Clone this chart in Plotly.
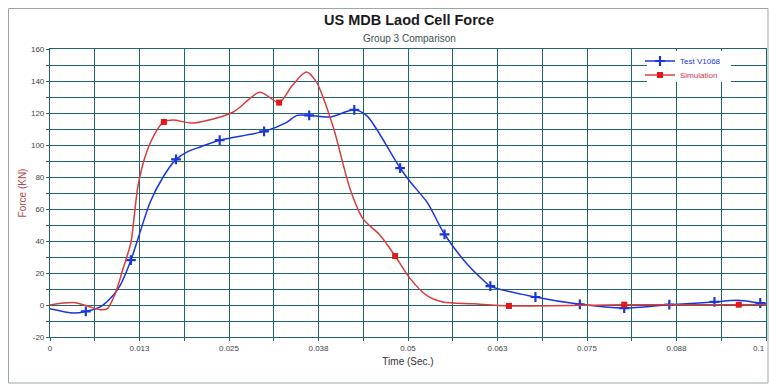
import plotly.graph_objects as go

# ---- data (time in seconds, force in kN) ----
test_t = [0.0, 0.0033, 0.0050, 0.0070, 0.0088, 0.0098, 0.0113, 0.0124, 0.0140, 0.0158,
          0.0176, 0.0191, 0.0210, 0.0237, 0.0299, 0.0330, 0.0345, 0.0362, 0.0391, 0.0425,
          0.0442, 0.0456, 0.0489, 0.0503, 0.0527, 0.0551, 0.0584, 0.0603, 0.0615, 0.0678,
          0.0740, 0.0802, 0.0865, 0.0928, 0.0960, 0.0992, 0.1000]
test_f = [-2.3, -5.0, -4.0, -1.2, 6.0, 12.3, 28.0, 43.0, 64.4, 80.0,
          91.0, 95.6, 98.8, 103.0, 108.5, 114.0, 118.5, 118.5, 117.5, 122.0,
          118.5, 110.0, 85.6, 77.0, 64.0, 44.2, 24.8, 16.4, 11.8, 5.0,
          0.4, -1.9, 0.2, 1.9, 2.9, 1.25, 1.0]
test_markers = [2, 6, 10, 13, 14, 17, 19, 22, 25, 28, 29, 30, 31, 32, 33, 35]

sim_t = [0.0, 0.0033, 0.0052, 0.0070, 0.0080, 0.0091, 0.0102, 0.0113, 0.0118, 0.0123,
         0.0135, 0.0149, 0.0159, 0.0172, 0.0200, 0.0256, 0.0293, 0.0320, 0.0338, 0.0358,
         0.0372, 0.0395, 0.0419, 0.0437, 0.0461, 0.0482, 0.0503, 0.0526, 0.0549, 0.0591,
         0.0641, 0.0802, 0.0962, 0.1000]
sim_f = [0.0, 1.5, -0.6, -2.9, -2.3, 7.0, 22.7, 39.0, 57.0, 74.8,
         95.6, 109.0, 114.4, 115.6, 113.7, 120.6, 133.0, 126.5, 137.0, 145.6,
         139.4, 112.0, 72.7, 54.0, 43.6, 30.6, 16.5, 6.0, 1.9, 0.8,
         -0.6, 0.2, 0.2, 0.3]
sim_markers = [12, 17, 25, 30, 31, 32]

x_tickvals = [0.0, 0.00625, 0.0125, 0.01875, 0.025, 0.03125, 0.0375, 0.04375, 0.05,
              0.05625, 0.0625, 0.06875, 0.075, 0.08125, 0.0875, 0.09375, 0.1]
x_ticktext = ["0", "", "0.013", "", "0.025", "", "0.038", "", "0.05",
              "", "0.063", "", "0.075", "", "0.088", "", "0.1"]
y_tickvals = [-20, -10, 0, 10, 20, 30, 40, 50, 60, 70, 80, 90, 100, 110, 120, 130, 140, 150, 160]
y_ticktext = ["-20", "", "0", "", "20", "", "40", "", "60", "", "80", "", "100", "",
              "120", "", "140", "", "160"]

BLUE = "#1a35dc"
RED = "#d83c3c"
GRID = "#236666"
FONT = "Liberation Sans, Arial, sans-serif"

# the last tick label sits at the page edge: draw it right-aligned to its tick instead
x_ticktext_shown = list(x_ticktext)
x_ticktext_shown[-1] = ""

fig = go.Figure()
fig.add_trace(go.Scatter(
    x=test_t, y=test_f, mode="lines+markers",
    name="<span style='color:#1a35dc'>Test V1068</span>",
    line=dict(color=BLUE, width=1.5, shape="spline", smoothing=0.8),
    marker=dict(symbol="cross-thin", size=7, color=BLUE, line=dict(color=BLUE, width=2.2)),
    selectedpoints=test_markers,
    selected=dict(marker=dict(opacity=1)),
    unselected=dict(marker=dict(opacity=0)),
    legend="legend",
))
fig.add_trace(go.Scatter(
    x=sim_t, y=sim_f, mode="lines+markers",
    name="<span style='color:#c83a4a'>Simulation</span>",
    line=dict(color=RED, width=1.5, shape="spline", smoothing=0.8),
    marker=dict(symbol="square", size=6, color="#e01818"),
    selectedpoints=sim_markers,
    selected=dict(marker=dict(opacity=1)),
    unselected=dict(marker=dict(opacity=0)),
    legend="legend2",
))

L, R, T, B = 50, 3, 49, 48
W, H = 769, 385
pw, ph = W - L - R, H - T - B

def px_x(px):
    return (px - L) / pw

def px_y(py):
    return (H - B - py) / ph

legend_common = dict(xanchor="left", yanchor="middle", bgcolor="rgba(0,0,0,0)", borderwidth=0,
                     font=dict(size=8, family=FONT), itemwidth=30, tracegroupgap=0)

fig.update_layout(
    template="none",
    width=W, height=H,
    margin=dict(l=L, r=R, t=T, b=B, pad=0),
    paper_bgcolor="white", plot_bgcolor="white",
    font=dict(family=FONT, size=8, color="#333333"),
    showlegend=True,
    legend=dict(x=px_x(640), y=px_y(61), **legend_common),
    legend2=dict(x=px_x(640), y=px_y(75), **legend_common),
    annotations=[
        dict(text="<b>US MDB Laod Cell Force</b>", x=px_x(409), y=px_y(20),
             xref="paper", yref="paper", showarrow=False, yanchor="middle", xanchor="center",
             font=dict(size=14.5, color="#1a1a1a", family=FONT)),
        dict(text="Group 3 Comparison", x=px_x(409), y=px_y(39),
             xref="paper", yref="paper", showarrow=False, yanchor="middle", xanchor="center",
             font=dict(size=10, color="#3d4f4f", family=FONT)),
        dict(text=x_ticktext[-1], x=x_tickvals[-1], xref="x", y=px_y(348), yref="paper",
             showarrow=False, xanchor="right", yanchor="middle", xshift=1,
             font=dict(size=8, color="#444444", family=FONT)),
    ],
    shapes=[
        dict(type="rect", xref="paper", yref="paper",
             x0=px_x(8.5), x1=px_x(768), y0=px_y(383), y1=px_y(8.5),
             line=dict(color="#9aa8a8", width=1), layer="below"),
        dict(type="rect", xref="paper", yref="paper",
             x0=px_x(647), x1=px_x(731), y0=px_y(82), y1=px_y(51),
             line=dict(width=0), fillcolor="white", layer="above"),
    ],
)

fig.update_xaxes(
    range=[0, 0.1], tickmode="array", tickvals=x_tickvals, ticktext=x_ticktext_shown,
    showgrid=True, gridcolor=GRID, gridwidth=1, zeroline=False,
    showline=True, linecolor=GRID, linewidth=1.2, mirror=True,
    ticks="outside", ticklen=3, tickcolor=GRID,
    tickfont=dict(size=8, color="#444444"),
    title=dict(text="Time (Sec.)", font=dict(size=10, color="#333333"), standoff=6),
    automargin=False,
)
fig.update_yaxes(
    range=[-20, 160], tickmode="array", tickvals=y_tickvals, ticktext=y_ticktext,
    showgrid=True, gridcolor=GRID, gridwidth=1, zeroline=False,
    showline=True, linecolor=GRID, linewidth=1.2, mirror=True,
    ticks="outside", ticklen=3, tickcolor=GRID,
    tickfont=dict(size=8, color="#444444"),
    title=dict(text="Force (KN)", font=dict(size=10, color="#b84848"), standoff=2),
    automargin=False,
)

fig.write_html("out.html", config={"displayModeBar": False},
               post_script="document.body.style.margin='0';")
